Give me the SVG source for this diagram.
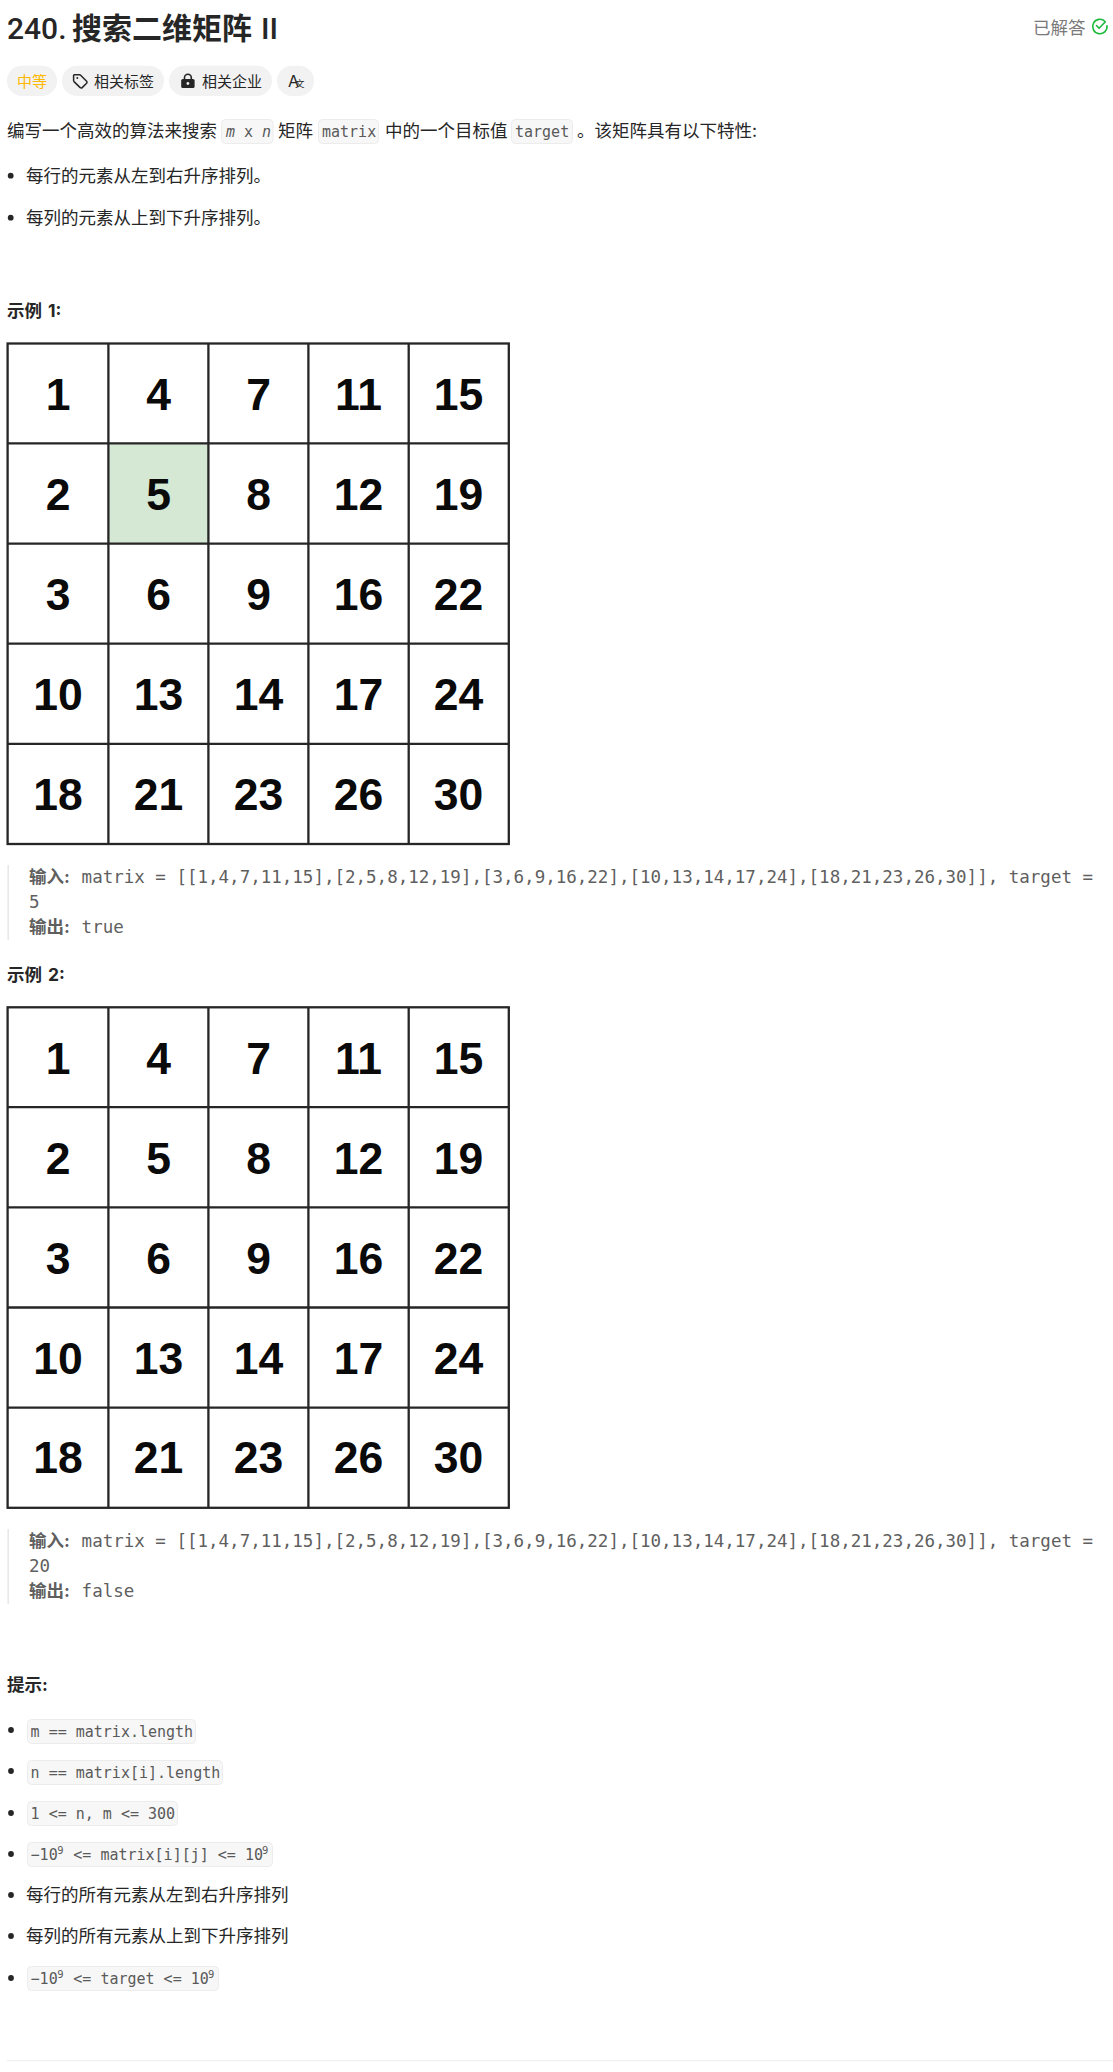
<svg xmlns="http://www.w3.org/2000/svg" width="1113" height="2072" viewBox="0 0 1113 2072">
<style>
text{font-family:"Inter","Noto Sans CJK SC","Noto Sans",sans-serif;fill:#262626;white-space:pre}
.t{font-size:17.5px}
.b{font-size:17.5px;font-weight:700}
.c{font-family:"DejaVu Sans Mono","Liberation Mono","Noto Sans CJK SC",monospace;font-size:15px;fill:#5a5a5a}
.m{font-family:"DejaVu Sans Mono","Liberation Mono",monospace;font-size:17.5px;fill:#5f5f5f}
.k{font-size:17.5px;font-weight:700;fill:#5f5f5f}
.s{font-size:10.5px}
.p{font-size:15px}
.h{font-family:"Roboto","Noto Sans",sans-serif;font-size:30px;font-weight:500}
.hc{font-family:"Noto Sans CJK SC",sans-serif;font-size:30px;font-weight:700}
.pill{fill:#f2f2f2}
.cp{fill:#f7f7f7;stroke:#ececec;stroke-width:1}
.bar{fill:#e8e8e8}
.dot{fill:#262626}
.gl{stroke:#262626;stroke-width:2.3;fill:none}
.n{font-family:"Liberation Sans",Arial,sans-serif;font-size:44.5px;font-weight:700;fill:#0a0a0a;text-anchor:middle}
</style>
<defs>
<g id="gridlines">
<path class="gl" d="M108.4 343.5V844M208.4 343.5V844M308.4 343.5V844M408.7 343.5V844M7.6 443.4H508.8M7.6 543.6H508.8M7.6 643.7H508.8M7.6 743.8H508.8"/>
<rect class="gl" x="7.6" y="343.5" width="501.2" height="500.5"/>
</g>
<g id="gridnums">
<text class="n" x="58" y="410">1</text><text class="n" x="158.5" y="410">4</text><text class="n" x="258.5" y="410">7</text><text class="n" x="358.5" y="410">11</text><text class="n" x="458.5" y="410">15</text>
<text class="n" x="58" y="510">2</text><text class="n" x="158.5" y="510">5</text><text class="n" x="258.5" y="510">8</text><text class="n" x="358.5" y="510">12</text><text class="n" x="458.5" y="510">19</text>
<text class="n" x="58" y="610">3</text><text class="n" x="158.5" y="610">6</text><text class="n" x="258.5" y="610">9</text><text class="n" x="358.5" y="610">16</text><text class="n" x="458.5" y="610">22</text>
<text class="n" x="58" y="710">10</text><text class="n" x="158.5" y="710">13</text><text class="n" x="258.5" y="710">14</text><text class="n" x="358.5" y="710">17</text><text class="n" x="458.5" y="710">24</text>
<text class="n" x="58" y="809.5">18</text><text class="n" x="158.5" y="809.5">21</text><text class="n" x="258.5" y="809.5">23</text><text class="n" x="358.5" y="809.5">26</text><text class="n" x="458.5" y="809.5">30</text>
</g>
</defs>
<rect width="1113" height="2072" fill="#fff"/>

<g id="header">
<text class="h" x="7" y="39">240.</text>
<text class="hc" x="72" y="39">搜索二维矩阵</text>
<text class="h" x="261" y="39">II</text>
<text x="1033" y="34" style="font-size:17.5px;fill:#7a7a7a">已解答</text>
<path d="M1105 21.5A7.2 7.2 0 1 0 1107 25.7" fill="none" stroke="#1cba3c" stroke-width="1.6" stroke-linecap="round"/>
<path d="M1096.5 25.5l2.6 2.8 6-6.3" fill="none" stroke="#1cba3c" stroke-width="1.6" stroke-linecap="round" stroke-linejoin="round"/>
</g>

<g id="tags">
<rect class="pill" x="7" y="65.7" width="50" height="30.3" rx="15.1"/>
<text class="p" x="17" y="87" style="fill:#ffb800">中等</text>
<rect class="pill" x="62" y="65.7" width="102" height="30.3" rx="15.1"/>
<path d="M74.2 74.8h5.4a1.5 1.5 0 0 1 1 .4l6 6a1.4 1.4 0 0 1 0 2l-4.4 4.4a1.4 1.4 0 0 1-2 0l-6.2-6a1.5 1.5 0 0 1-.4-1v-5.2a.8.8 0 0 1 .6-.6z" fill="none" stroke="#262626" stroke-width="1.5" stroke-linejoin="round"/>
<circle cx="77.3" cy="78" r="1" fill="#262626"/>
<text class="p" x="94" y="87">相关标签</text>
<rect class="pill" x="169" y="65.7" width="103" height="30.3" rx="15.1"/>
<rect x="181.2" y="79" width="13.4" height="9" rx="1.6" fill="#262626"/>
<path d="M184.5 79.5v-1.8a3.4 3.4 0 0 1 6.8 0v1.8" fill="none" stroke="#262626" stroke-width="1.6"/>
<circle cx="187.9" cy="83.5" r="1.4" fill="#f2f2f2"/>
<text class="p" x="202" y="87">相关企业</text>
<rect class="pill" x="277" y="65.7" width="37" height="30.3" rx="15.1"/>
<text x="288" y="86.7" style="font-size:16px">A</text>
<text x="295" y="87" style="font-size:9.5px">文</text>
</g>

<g id="intro">
<text class="t" x="7" y="136.7">编写一个高效的算法来搜索</text>
<rect class="cp" x="221.5" y="119.5" width="51.5" height="24" rx="4"/>
<text class="c" x="226" y="137" style="font-style:italic">m</text><text class="c" x="244" y="137">x</text><text class="c" x="262" y="137" style="font-style:italic">n</text>
<text class="t" x="278" y="136.7">矩阵</text>
<rect class="cp" x="318.5" y="119.5" width="60" height="24" rx="4"/>
<text class="c" x="322" y="137">matrix</text>
<text class="t" x="385" y="136.7">中的一个目标值</text>
<rect class="cp" x="511.5" y="119.5" width="61" height="24" rx="4"/>
<text class="c" x="515" y="137">target</text>
<text class="t" x="577" y="136.7">。该矩阵具有以下特性:</text>
<circle class="dot" cx="10.7" cy="175.7" r="2.9"/>
<text class="t" x="26" y="182">每行的元素从左到右升序排列。</text>
<circle class="dot" cx="10.7" cy="217.7" r="2.9"/>
<text class="t" x="26" y="224">每列的元素从上到下升序排列。</text>
</g>

<g id="example1">
<text class="b" x="7" y="316.7">示例</text><text class="b" x="48" y="316.7">1:</text>
<rect x="108.4" y="443.4" width="100" height="100.2" fill="#d5e8d4"/>
<use href="#gridlines"/>
<use href="#gridnums"/>
<rect class="bar" x="7.4" y="865" width="1.6" height="75"/>
<text class="k" x="29" y="883">输入:</text>
<text class="m" x="81.6" y="883">matrix = [[1,4,7,11,15],[2,5,8,12,19],[3,6,9,16,22],[10,13,14,17,24],[18,21,23,26,30]], target =</text>
<text class="m" x="29" y="908">5</text>
<text class="k" x="29" y="933">输出:</text>
<text class="m" x="81.6" y="933">true</text>
</g>

<g id="example2">
<text class="b" x="7" y="980.7">示例</text><text class="b" x="48" y="980.7">2:</text>
<g transform="translate(0 663.8)">
<use href="#gridlines"/>
<use href="#gridnums"/>
</g>
<rect class="bar" x="7.4" y="1529" width="1.6" height="75"/>
<text class="k" x="29" y="1547.3">输入:</text>
<text class="m" x="81.6" y="1547.3">matrix = [[1,4,7,11,15],[2,5,8,12,19],[3,6,9,16,22],[10,13,14,17,24],[18,21,23,26,30]], target =</text>
<text class="m" x="29" y="1572.3">20</text>
<text class="k" x="29" y="1597.3">输出:</text>
<text class="m" x="81.6" y="1597.3">false</text>
</g>

<g id="hints">
<text class="b" x="7" y="1690.7">提示:</text>
<circle class="dot" cx="11" cy="1730" r="2.9"/>
<rect class="cp" x="27.5" y="1719.5" width="168" height="24" rx="4"/>
<text class="c" x="30.6" y="1736.7">m == matrix.length</text>
<circle class="dot" cx="11" cy="1771" r="2.9"/>
<rect class="cp" x="27.5" y="1760.5" width="195" height="24" rx="4"/>
<text class="c" x="30.6" y="1777.7">n == matrix[i].length</text>
<circle class="dot" cx="11" cy="1813" r="2.9"/>
<rect class="cp" x="27.5" y="1801.5" width="150" height="24" rx="4"/>
<text class="c" x="30.6" y="1818.7">1 &lt;= n, m &lt;= 300</text>
<circle class="dot" cx="11" cy="1854" r="2.9"/>
<rect class="cp" x="27.5" y="1842.5" width="245" height="24" rx="4"/>
<text class="c" x="30.6" y="1860">−10</text><text class="c s" x="57.3" y="1854">9</text><text class="c" x="73.3" y="1860">&lt;= matrix[i][j] &lt;= 10</text><text class="c s" x="262" y="1854">9</text>
<circle class="dot" cx="11" cy="1895" r="2.9"/>
<text class="t" x="26" y="1901">每行的所有元素从左到右升序排列</text>
<circle class="dot" cx="11" cy="1936" r="2.9"/>
<text class="t" x="26" y="1942">每列的所有元素从上到下升序排列</text>
<circle class="dot" cx="11" cy="1978" r="2.9"/>
<rect class="cp" x="27.5" y="1966.5" width="191" height="24" rx="4"/>
<text class="c" x="30.6" y="1984">−10</text><text class="c s" x="57.3" y="1978">9</text><text class="c" x="73.3" y="1984">&lt;= target &lt;= 10</text><text class="c s" x="208" y="1978">9</text>
<rect x="7" y="2060" width="1106" height="1.2" fill="#f0f0f0"/>
</g>
</svg>
